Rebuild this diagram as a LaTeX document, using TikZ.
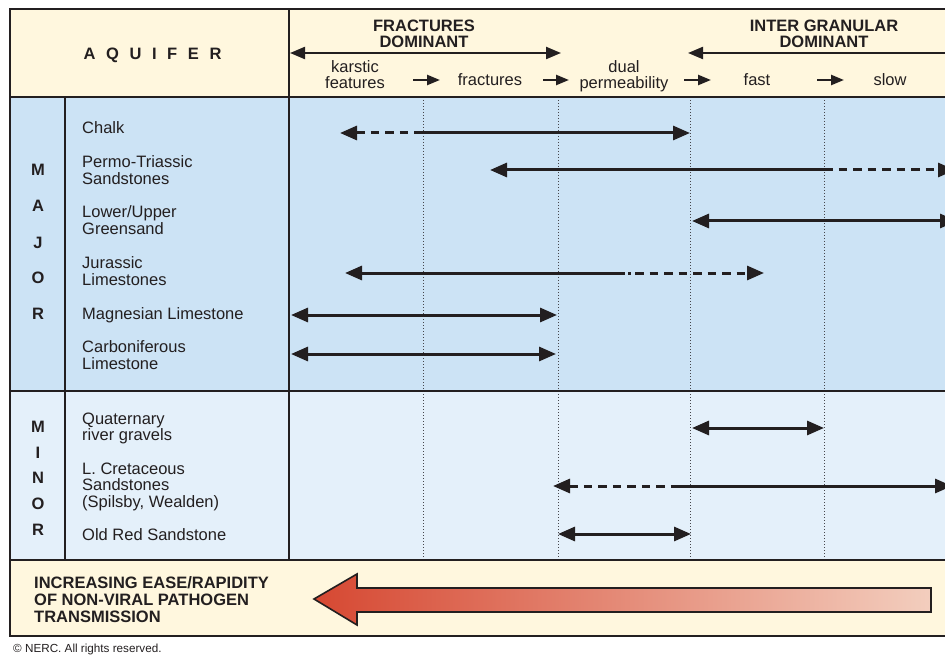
\documentclass[tikz,border=0pt]{standalone}
\usepackage{fontspec}
\setmainfont{Liberation Sans}
\usetikzlibrary{arrows.meta}

\definecolor{ink}{RGB}{35,31,32}
\definecolor{cream}{RGB}{255,247,222}
\definecolor{majorblue}{RGB}{204,227,245}
\definecolor{minorblue}{RGB}{228,240,250}
\definecolor{dotgray}{RGB}{70,70,75}
\definecolor{hotred}{RGB}{214,72,50}
\definecolor{palered}{RGB}{243,206,190}

\tikzset{
  txt/.style={font=\fontsize{16.5}{17}\selectfont, text=ink, inner sep=0pt, anchor=base west},
  ctxt/.style={txt, anchor=base},
  btxt/.style={font=\fontsize{16.5}{17}\selectfont\bfseries, text=ink, inner sep=0pt, anchor=base},
  rule/.style={draw=ink, line width=1.7pt},
  guide/.style={draw=dotgray, line width=0.9pt, dash pattern=on 1.2pt off 1.8pt},
  span/.style={draw=ink, line width=3pt, {Triangle[length=17pt,width=14pt]}-{Triangle[length=17pt,width=14pt]}},
  lefthead/.style={draw=ink, line width=3pt, {Triangle[length=17pt,width=14pt]}-},
  righthead/.style={draw=ink, line width=3pt, -{Triangle[length=17pt,width=14pt]}},
  dashpart/.style={dash pattern=on 8.5pt off 6pt},
  toparrow/.style={draw=ink, line width=2.2pt, {Triangle[length=15pt,width=12pt]}-{Triangle[length=15pt,width=12pt]}},
  steparrow/.style={draw=ink, line width=2.4pt, -{Triangle[length=13pt,width=10pt]}},
}

\begin{document}
\begin{tikzpicture}[x=1pt, y=-1pt]
\useasboundingbox (0,0) rectangle (945,655);
\begin{scope}
\clip (0,0) rectangle (945,655);

% panel fills
\fill[cream] (10,9) rectangle (960,97);
\fill[majorblue] (10,97) rectangle (960,391);
\fill[minorblue] (10,391) rectangle (960,560);
\fill[cream] (10,560) rectangle (960,636);

% guide lines between transport classes
\foreach \gx/\gn in {423/ga, 558/gb, 690/gc, 824/gd} {
  \coordinate (\gn top) at (\gx,97);
  \coordinate (\gn bot) at (\gx,560);
  \draw[guide] (\gn top) -- (\gn bot);
}

% frame and rules
\draw[rule] (10,9) rectangle (960,636);
\draw[rule] (10,97) -- (960,97);
\draw[rule] (10,391) -- (960,391);
\draw[rule] (10,560) -- (960,560);
\draw[rule] (65,97) -- (65,560);
\draw[rule] (289,9) -- (289,560);

% header
\node[btxt] (aquifer) at (152.5,60) {A\kern10.6pt Q\kern10.6pt U\kern10.6pt I\kern10.6pt F\kern10.6pt E\kern10.6pt R};
\node[btxt] (frac1) at (424,32) {FRACTURES};
\node[btxt] (frac2) at (424,48) {DOMINANT};
\node[btxt] (gran1) at (824,32) {INTER GRANULAR};
\node[btxt] (gran2) at (824,48) {DOMINANT};

\coordinate (fracL) at (290,53);
\coordinate (fracR) at (561,53);
\draw[toparrow] (fracL) -- (fracR);
\coordinate (granL) at (688,53);
\coordinate (granR) at (962,53);
\draw[toparrow] (granL) -- (granR);

\node[ctxt] (karst1) at (355,73) {karstic};
\node[ctxt] (karst2) at (355,89) {features};
\node[ctxt] (fract) at (490,86) {fractures};
\node[ctxt] (dual1) at (624,73) {dual};
\node[ctxt] (dual2) at (624,89) {permeability};
\node[ctxt] (fast) at (757,86) {fast};
\node[ctxt] (slow) at (890,86) {slow};

\foreach \sa/\sb/\sn in {413/440/sa, 543/569/sb, 684/711/sc, 817/844/sd} {
  \coordinate (\sn1) at (\sa,80);
  \coordinate (\sn2) at (\sb,80);
  \draw[steparrow] (\sn1) -- (\sn2);
}

% major aquifers
\foreach \ch/\cy [count=\i] in {M/176, A/212, J/248, O/283, R/319} {
  \node[btxt] (maj\i) at (38,\cy) {\ch};
}
\node[txt] (chalk) at (82,134) {Chalk};
\node[txt] (permo1) at (82,168) {Permo-Triassic};
\node[txt] (permo2) at (82,185) {Sandstones};
\node[txt] (green1) at (82,218) {Lower/Upper};
\node[txt] (green2) at (82,235) {Greensand};
\node[txt] (jura1) at (82,269) {Jurassic};
\node[txt] (jura2) at (82,285) {Limestones};
\node[txt] (magn) at (82,319) {Magnesian Limestone};
\node[txt] (carb1) at (82,352) {Carboniferous};
\node[txt] (carb2) at (82,369) {Limestone};

% Chalk
\coordinate (chA) at (340,133); \coordinate (chB) at (423,133); \coordinate (chC) at (690,133);
\draw[lefthead, dashpart] (chA) -- (chB);
\draw[righthead] (chB) -- (chC);
% Permo-Triassic Sandstones
\coordinate (ptA) at (490,170); \coordinate (ptB) at (824,170); \coordinate (ptC) at (955,170);
\draw[lefthead] (ptA) -- (ptB);
\draw[righthead, dashpart] (ptB) -- (ptC);
% Lower/Upper Greensand
\coordinate (gsA) at (692,221); \coordinate (gsB) at (957,221);
\draw[span] (gsA) -- (gsB);
% Jurassic Limestones
\coordinate (juA) at (345,273); \coordinate (juB) at (625,273); \coordinate (juC) at (764,273);
\draw[lefthead] (juA) -- (juB);
\draw[righthead, dash pattern=on 0pt off 3pt on 3pt off 4pt on 8.5pt off 6pt on 8.5pt off 6pt on 8.5pt off 6pt on 8.5pt off 6pt on 8.5pt off 6pt on 8.5pt off 6pt on 8.5pt off 6pt on 8.5pt off 6pt] (juB) -- (juC);
% Magnesian Limestone
\coordinate (mgA) at (291,315); \coordinate (mgB) at (557,315);
\draw[span] (mgA) -- (mgB);
% Carboniferous Limestone
\coordinate (cbA) at (291,354); \coordinate (cbB) at (556,354);
\draw[span] (cbA) -- (cbB);

% minor aquifers
\foreach \ch/\cy [count=\i] in {M/432, I/458, N/483, O/509, R/535} {
  \node[btxt] (min\i) at (38,\cy) {\ch};
}
\node[txt] (quat1) at (82,424) {Quaternary};
\node[txt] (quat2) at (82,440) {river gravels};
\node[txt] (cret1) at (82,474) {L. Cretaceous};
\node[txt] (cret2) at (82,490) {Sandstones};
\node[txt] (cret3) at (82,507) {(Spilsby, Wealden)};
\node[txt] (ors) at (82,540) {Old Red Sandstone};

\coordinate (qA) at (692,428); \coordinate (qB) at (824,428);
\draw[span] (qA) -- (qB);
\coordinate (crA) at (553,486); \coordinate (crB) at (676,486); \coordinate (crC) at (952,486);
\draw[lefthead, dashpart] (crA) -- (crB);
\draw[righthead] (crB) -- (crC);
\coordinate (orA) at (558,534); \coordinate (orB) at (691,534);
\draw[span] (orA) -- (orB);

% transmission panel
\node[btxt, anchor=base west] (inc1) at (34,588) {INCREASING EASE/RAPIDITY};
\node[btxt, anchor=base west] (inc2) at (34,605) {OF NON-VIRAL PATHOGEN};
\node[btxt, anchor=base west] (inc3) at (34,622) {TRANSMISSION};

\shade[left color=hotred, right color=palered]
  (314,599) -- (357,574) -- (357,588) -- (931,588) -- (931,612) -- (357,612) -- (357,625) -- cycle;
\draw[ink, line width=1.6pt, line join=miter]
  (314,599) -- (357,574) -- (357,588) -- (931,588) -- (931,612) -- (357,612) -- (357,625) -- cycle;
\end{scope}

\node[font=\fontsize{11.7}{13}\selectfont, text=ink, inner sep=0pt, anchor=base west] (credit) at (13,652) {© NERC. All rights reserved.};
\end{tikzpicture}
\end{document}
